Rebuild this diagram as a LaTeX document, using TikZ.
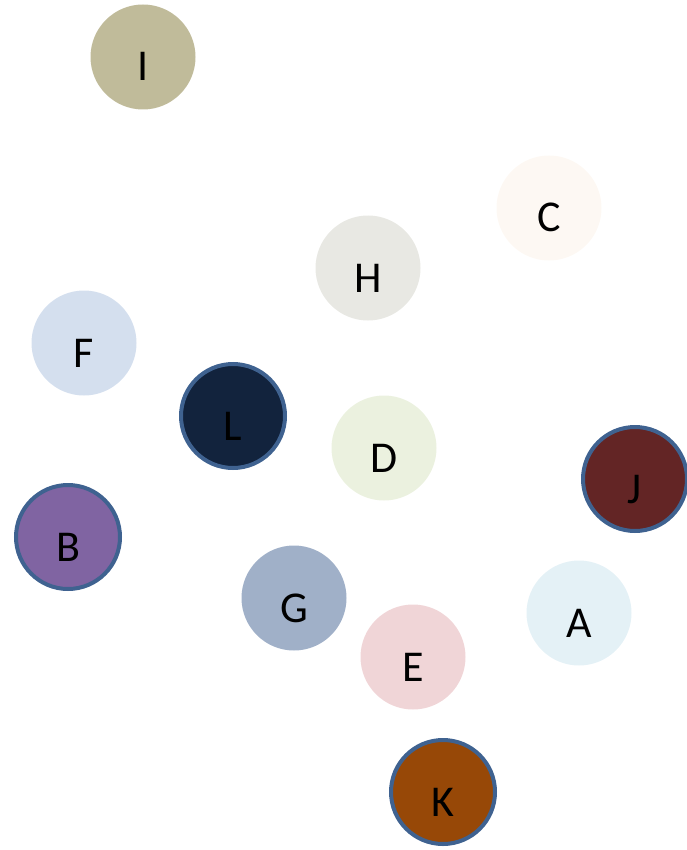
\documentclass[tikz,border=0pt]{standalone}
\usepackage{fontspec}
\setmainfont{Carlito}
\definecolor{cI}{HTML}{C0BB9A}
\definecolor{cC}{HTML}{FDF8F3}
\definecolor{cH}{HTML}{E8E8E3}
\definecolor{cF}{HTML}{D4DFEE}
\definecolor{cL}{HTML}{12233D}
\definecolor{cD}{HTML}{EBF1DF}
\definecolor{cJ}{HTML}{632525}
\definecolor{cB}{HTML}{8064A2}
\definecolor{cG}{HTML}{A0B0C8}
\definecolor{cA}{HTML}{E4F1F6}
\definecolor{cE}{HTML}{F0D5D7}
\definecolor{cK}{HTML}{974807}
\definecolor{rim}{HTML}{3F6290}
\tikzset{
  ball/.style={circle, minimum size=105pt, inner sep=0pt, font=\fontsize{44}{44}\selectfont},
  rimball/.style={ball, minimum size=104pt, draw=rim, line width=4pt}
}
\newcommand{\lbl}[1]{\raisebox{-24pt}[0pt][0pt]{#1}}
\begin{document}
\begin{tikzpicture}[x=1pt,y=-1pt]
\useasboundingbox (0,0) rectangle (686,850);
\node[ball, fill=cI] (I) at (143,57) {\lbl{I}};
\node[ball, fill=cC] (C) at (549,208) {\lbl{C}};
\node[ball, fill=cH] (H) at (368,268) {\lbl{H}};
\node[ball, fill=cF] (F) at (84,343) {\lbl{F}};
\node[rimball, fill=cL] (L) at (233,416) {\lbl{L}};
\node[ball, fill=cD] (D) at (384,448) {\lbl{D}};
\node[rimball, fill=cJ] (J) at (635,479) {\lbl{J}};
\node[rimball, fill=cB] (B) at (68,537) {\lbl{B}};
\node[ball, fill=cG] (G) at (294,598) {\lbl{G}};
\node[ball, fill=cA] (A) at (579,613) {\lbl{A}};
\node[ball, fill=cE] (E) at (413,657) {\lbl{E}};
\node[rimball, fill=cK] (K) at (443,792) {\lbl{K}};
\end{tikzpicture}
\end{document}
